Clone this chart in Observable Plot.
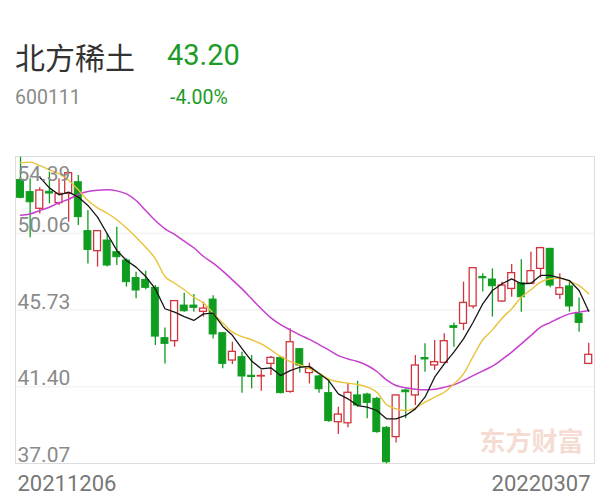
<!DOCTYPE html>
<html><head><meta charset="utf-8">
<script src="https://cdn.jsdelivr.net/npm/d3@7"></script>
<script src="https://cdn.jsdelivr.net/npm/@observablehq/plot@0.6"></script>
<style>
body{margin:0;background:#fff;width:609px;height:500px;overflow:hidden;font-family:Roboto,"Noto Sans CJK SC",sans-serif}
#hdr{position:relative;height:120px}
#hdr div{position:absolute;line-height:1;white-space:nowrap}
#name{left:15px;top:41px;font-size:30px;color:#333;font-family:"Noto Sans CJK SC",sans-serif}
#price{left:167px;top:41px;font-size:29px;color:#1d9b28}
#code{left:15px;top:88px;font-size:19.5px;color:#8a8a8a}
#chg{left:170px;top:88px;font-size:19.5px;color:#1d9b28}
</style></head><body>
<div id="hdr">
  <div id="name">北方稀土</div>
  <div id="price">43.20</div>
  <div id="code">600111</div>
  <div id="chg">-4.00%</div>
</div>
<div id="chart"></div>
<script>
const opens  = [53.07,52.38,51.44,52.40,51.76,52.28,52.94,50.18,49.05,49.65,48.99,48.52,47.53,47.43,46.98,44.14,43.97,45.98,45.98,45.63,
                46.32,44.42,42.88,43.07,42.02,41.98,42.69,43.03,41.11,43.52,42.17,41.98,41.04,39.40,39.34,40.91,40.96,40.72,39.08,38.56,
                41.19,40.91,43.02,42.60,42.75,44.82,44.95,45.93,47.59,47.45,46.21,46.92,47.24,47.21,48.05,49.18,46.59,47.06,45.51,42.69];
const highs  = [54.35,53.13,52.62,53.51,53.13,53.51,53.32,51.34,50.21,50.03,50.40,48.62,47.86,47.92,47.11,44.72,46.27,46.68,46.60,46.17,
                46.53,44.45,43.91,43.35,43.16,42.32,43.11,43.07,44.67,43.54,42.73,42.03,41.75,40.25,41.60,41.71,41.04,40.81,39.16,40.94,
                41.28,43.16,43.82,44.01,44.39,44.99,47.30,48.11,47.77,48.05,47.30,48.30,48.56,48.99,49.27,49.22,47.77,47.30,46.40,43.86];
const lows   = [52.00,49.80,51.15,51.72,51.63,50.68,50.50,48.33,48.15,48.15,48.24,47.02,46.36,46.87,43.73,42.69,43.63,45.61,45.61,45.33,
                44.10,42.41,42.65,41.04,41.28,41.15,42.03,41.00,41.04,42.17,41.56,41.04,39.40,38.71,39.08,40.25,39.59,38.78,37.05,38.22,
                39.59,40.34,42.22,42.32,42.69,43.63,44.57,45.79,46.74,45.33,46.17,46.45,45.61,47.17,47.54,46.98,46.32,45.61,44.48,42.65];
const closes = [52.06,51.81,52.47,52.30,52.28,53.45,50.97,49.12,50.18,48.24,48.71,47.30,46.83,46.98,44.23,43.82,46.23,45.66,45.85,45.81,
                44.35,42.69,43.37,41.98,41.95,42.01,43.03,41.04,43.91,42.60,42.41,41.26,39.46,39.83,41.06,40.34,40.49,38.84,37.14,40.91,
                41.09,42.60,42.94,42.79,43.97,44.72,46.13,48.09,47.52,47.07,47.11,47.81,46.45,47.92,49.22,47.11,46.96,45.93,45.00,43.20];
const ma5  = [null,null,53.22,52.62,52.23,52.38,52.10,51.63,50.97,50.03,49.09,48.52,48.15,47.62,46.92,45.80,45.61,45.36,45.14,45.51,
              45.55,44.80,44.30,43.55,42.85,42.41,42.47,42.03,42.31,42.50,42.55,42.15,41.75,41.00,40.72,40.34,40.25,40.06,39.59,39.59,
              39.78,40.15,40.81,41.94,42.69,43.35,44.10,45.04,46.08,46.83,47.21,47.49,47.21,47.24,47.68,47.68,47.54,47.39,46.83,45.66];
const ma10 = [54.03,54.07,53.88,53.64,53.41,53.04,52.51,51.91,51.49,51.19,50.82,50.36,49.84,49.27,48.62,47.62,47.24,46.87,46.45,46.12,
              45.55,44.99,44.48,44.23,44.05,43.82,43.48,43.11,42.82,42.64,42.41,42.17,41.83,41.68,41.60,41.53,41.38,41.09,40.40,40.15,
              40.06,40.21,40.53,40.81,41.09,41.56,42.13,43.11,44.05,44.61,45.27,45.80,46.45,46.87,47.30,47.49,47.53,47.34,47.11,46.64];
const ma20 = [51.08,51.15,51.34,51.53,51.78,51.98,52.25,52.41,52.49,52.51,52.45,52.28,51.91,51.34,50.78,50.31,49.99,49.61,49.24,48.75,
              48.37,47.92,47.43,46.92,46.36,45.80,45.29,44.91,44.61,44.33,44.07,43.78,43.48,43.16,42.97,42.82,42.60,42.26,41.79,41.47,
              41.34,41.26,41.23,41.26,41.37,41.51,41.75,42.03,42.30,42.56,42.94,43.35,43.82,44.29,44.76,45.02,45.29,45.51,45.61,45.70];
const yTicks = [54.39, 50.06, 45.73, 41.40, 37.07];
const yTickLabels = ["54.39", "50.06", "45.73", "41.40", "37.07"];
const dateLabels = ["20211206", "20220307"];
const watermark = "东方财富";

const RED = "#d1343c", GREEN = "#0f9d1f";
const candles = closes.map((c, i) => ({i, open: opens[i], high: highs[i], low: lows[i], close: c, up: c >= opens[i]}));
const ups = candles.filter(d => d.up), downs = candles.filter(d => !d.up);
const maRows = ma5.map((v, i) => ({i, ma5: v, ma10: ma10[i], ma20: ma20[i]}));
const W = 0.36;

const chart = Plot.plot({
  width: 609, height: 380,
  marginLeft: 15, marginRight: 15, marginTop: 36, marginBottom: 37,
  x: {domain: [-0.52, 59.6], axis: null},
  y: {domain: [yTicks[4], yTicks[0]], axis: null},
  style: {fontFamily: "Roboto, sans-serif", background: "#fff"},
  marks: [
    Plot.ruleY(yTicks.slice(1, 4), {stroke: "#eeeeee", strokeWidth: 1}),
    Plot.frame({stroke: "#dddddd"}),
    Plot.text([watermark], {frameAnchor: "bottom-right", dx: -11, dy: -21, lineAnchor: "middle", textAnchor: "end",
      fontSize: 26, fontWeight: "bold", fill: "#f5dcd3", fontFamily: "'Noto Sans CJK SC', sans-serif"}),
    Plot.ruleX(downs, {x: "i", y1: "low", y2: "high", stroke: GREEN, strokeWidth: 1.3}),
    Plot.ruleX(ups, {x: "i", y1: "low", y2: "high", stroke: RED, strokeWidth: 1.3}),
    Plot.rect(downs, {x1: d => d.i - W, x2: d => d.i + W, y1: "open", y2: "close", fill: GREEN, stroke: GREEN, strokeWidth: 1}),
    Plot.rect(ups, {x1: d => d.i - W, x2: d => d.i + W, y1: "open", y2: "close", fill: "#fff", stroke: RED, strokeWidth: 1.3}),
    Plot.line(maRows, {x: "i", y: "ma20", stroke: "#c63fce", strokeWidth: 1.5, clip: true, curve: "monotone-x"}),
    Plot.line(maRows, {x: "i", y: "ma10", stroke: "#e8c33a", strokeWidth: 1.4, clip: true, curve: "monotone-x"}),
    Plot.line(maRows.filter(d => d.ma5 != null), {x: "i", y: "ma5", stroke: "#161616", strokeWidth: 1.3, clip: true}),
    Plot.text(yTickLabels.slice(0, 1), {y: yTicks.slice(0, 1), frameAnchor: "left", textAnchor: "start", lineAnchor: "middle",
      dx: 2, dy: 18, fontSize: 21, fill: "#8a8a8a"}),
    Plot.text(yTickLabels.slice(1), {y: yTicks.slice(1), frameAnchor: "left", textAnchor: "start", lineAnchor: "middle",
      dx: 2, dy: -8, fontSize: 21, fill: "#8a8a8a"}),
    Plot.text([dateLabels[0]], {frameAnchor: "bottom-left", textAnchor: "start", lineAnchor: "middle", dx: 2, dy: 20, fontSize: 22, fill: "#777"}),
    Plot.text([dateLabels[1]], {frameAnchor: "bottom-right", textAnchor: "end", lineAnchor: "middle", dx: -4, dy: 20, fontSize: 22, fill: "#777"})
  ]
});
document.getElementById("chart").appendChild(chart);
</script>
</body></html>
